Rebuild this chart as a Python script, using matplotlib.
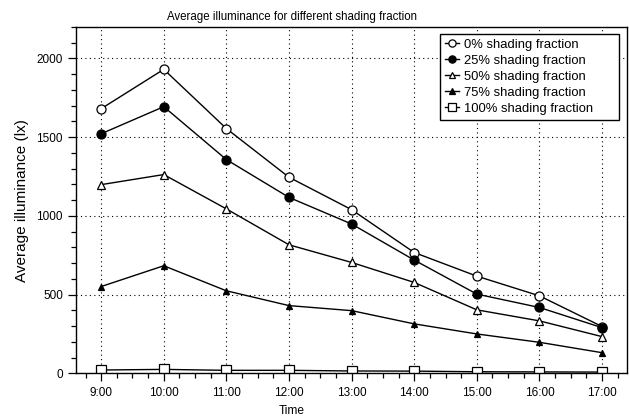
import matplotlib.pyplot as plt
from matplotlib.ticker import MultipleLocator

plt.rcParams['font.family'] = ['Liberation Sans', 'DejaVu Sans']

# hours of the day
hours = [9, 10, 11, 12, 13, 14, 15, 16, 17]
hour_labels = ['9:00', '10:00', '11:00', '12:00', '13:00', '14:00', '15:00', '16:00', '17:00']

# average illuminance (lx) per shading fraction
shade_0 = [1680, 1930, 1554, 1245, 1039, 767, 617, 492, 297]
shade_25 = [1521, 1693, 1357, 1117, 948, 719, 503, 418, 290]
shade_50 = [1198, 1262, 1044, 816, 704, 577, 403, 333, 233]
shade_75 = [551, 683, 524, 430, 398, 314, 250, 197, 131]
shade_100 = [21, 25, 19, 19, 15, 14, 10, 9, 8]

fig = plt.figure(figsize=(6.29, 4.19), dpi=100)
ax = fig.add_axes([0.121, 0.109, 0.876, 0.827])

line_kw = dict(color='black', linewidth=1.0, markeredgecolor='black', markeredgewidth=0.9)
ax.plot(hours, shade_0, marker='o', markersize=6.5, markerfacecolor='white', label='0% shading fraction', **line_kw)
ax.plot(hours, shade_25, marker='o', markersize=6.5, markerfacecolor='black', label='25% shading fraction', **line_kw)
ax.plot(hours, shade_50, marker='^', markersize=6, markerfacecolor='white', label='50% shading fraction', **line_kw)
ax.plot(hours, shade_75, marker='^', markersize=5, markerfacecolor='black', label='75% shading fraction', **line_kw)
ax.plot(hours, shade_100, marker='s', markersize=6.5, markerfacecolor='white', label='100% shading fraction', **line_kw)

ax.set_xlim(8.6, 17.4)
ax.set_ylim(0, 2200)
ax.set_xticks(hours)
ax.set_xticklabels(hour_labels)
ax.set_yticks([0, 500, 1000, 1500, 2000])
ax.xaxis.set_minor_locator(MultipleLocator(0.25))
ax.yaxis.set_minor_locator(MultipleLocator(100))
ax.tick_params(which='major', direction='out', length=6, width=0.9, labelsize=8.5, colors='black')
ax.tick_params(which='minor', direction='out', length=3.5, width=0.9)
ax.grid(True, which='major', color='black', linestyle=(0, (1, 3)), linewidth=0.8)
for s in ax.spines.values():
    s.set_linewidth(1.0)

ax.set_title('Average illuminance for different shading fraction', fontsize=8.3, x=0.392, pad=5)
ax.set_xlabel('Time', fontsize=8.6, x=0.392, labelpad=5)
ax.set_ylabel('Average illuminance (lx)', fontsize=11, labelpad=5)

leg = ax.legend(loc='upper left', mode='expand', bbox_to_anchor=(0.661, 0.728, 0.324, 0.251),
                fontsize=9.4, frameon=True, fancybox=False,
                edgecolor='black', framealpha=1, handlelength=1.1, handletextpad=0.4,
                labelspacing=0.3, borderpad=0.35, borderaxespad=0, markerscale=0.8)
leg.get_frame().set_linewidth(1.0)

fig.savefig('out.png', dpi=100)
